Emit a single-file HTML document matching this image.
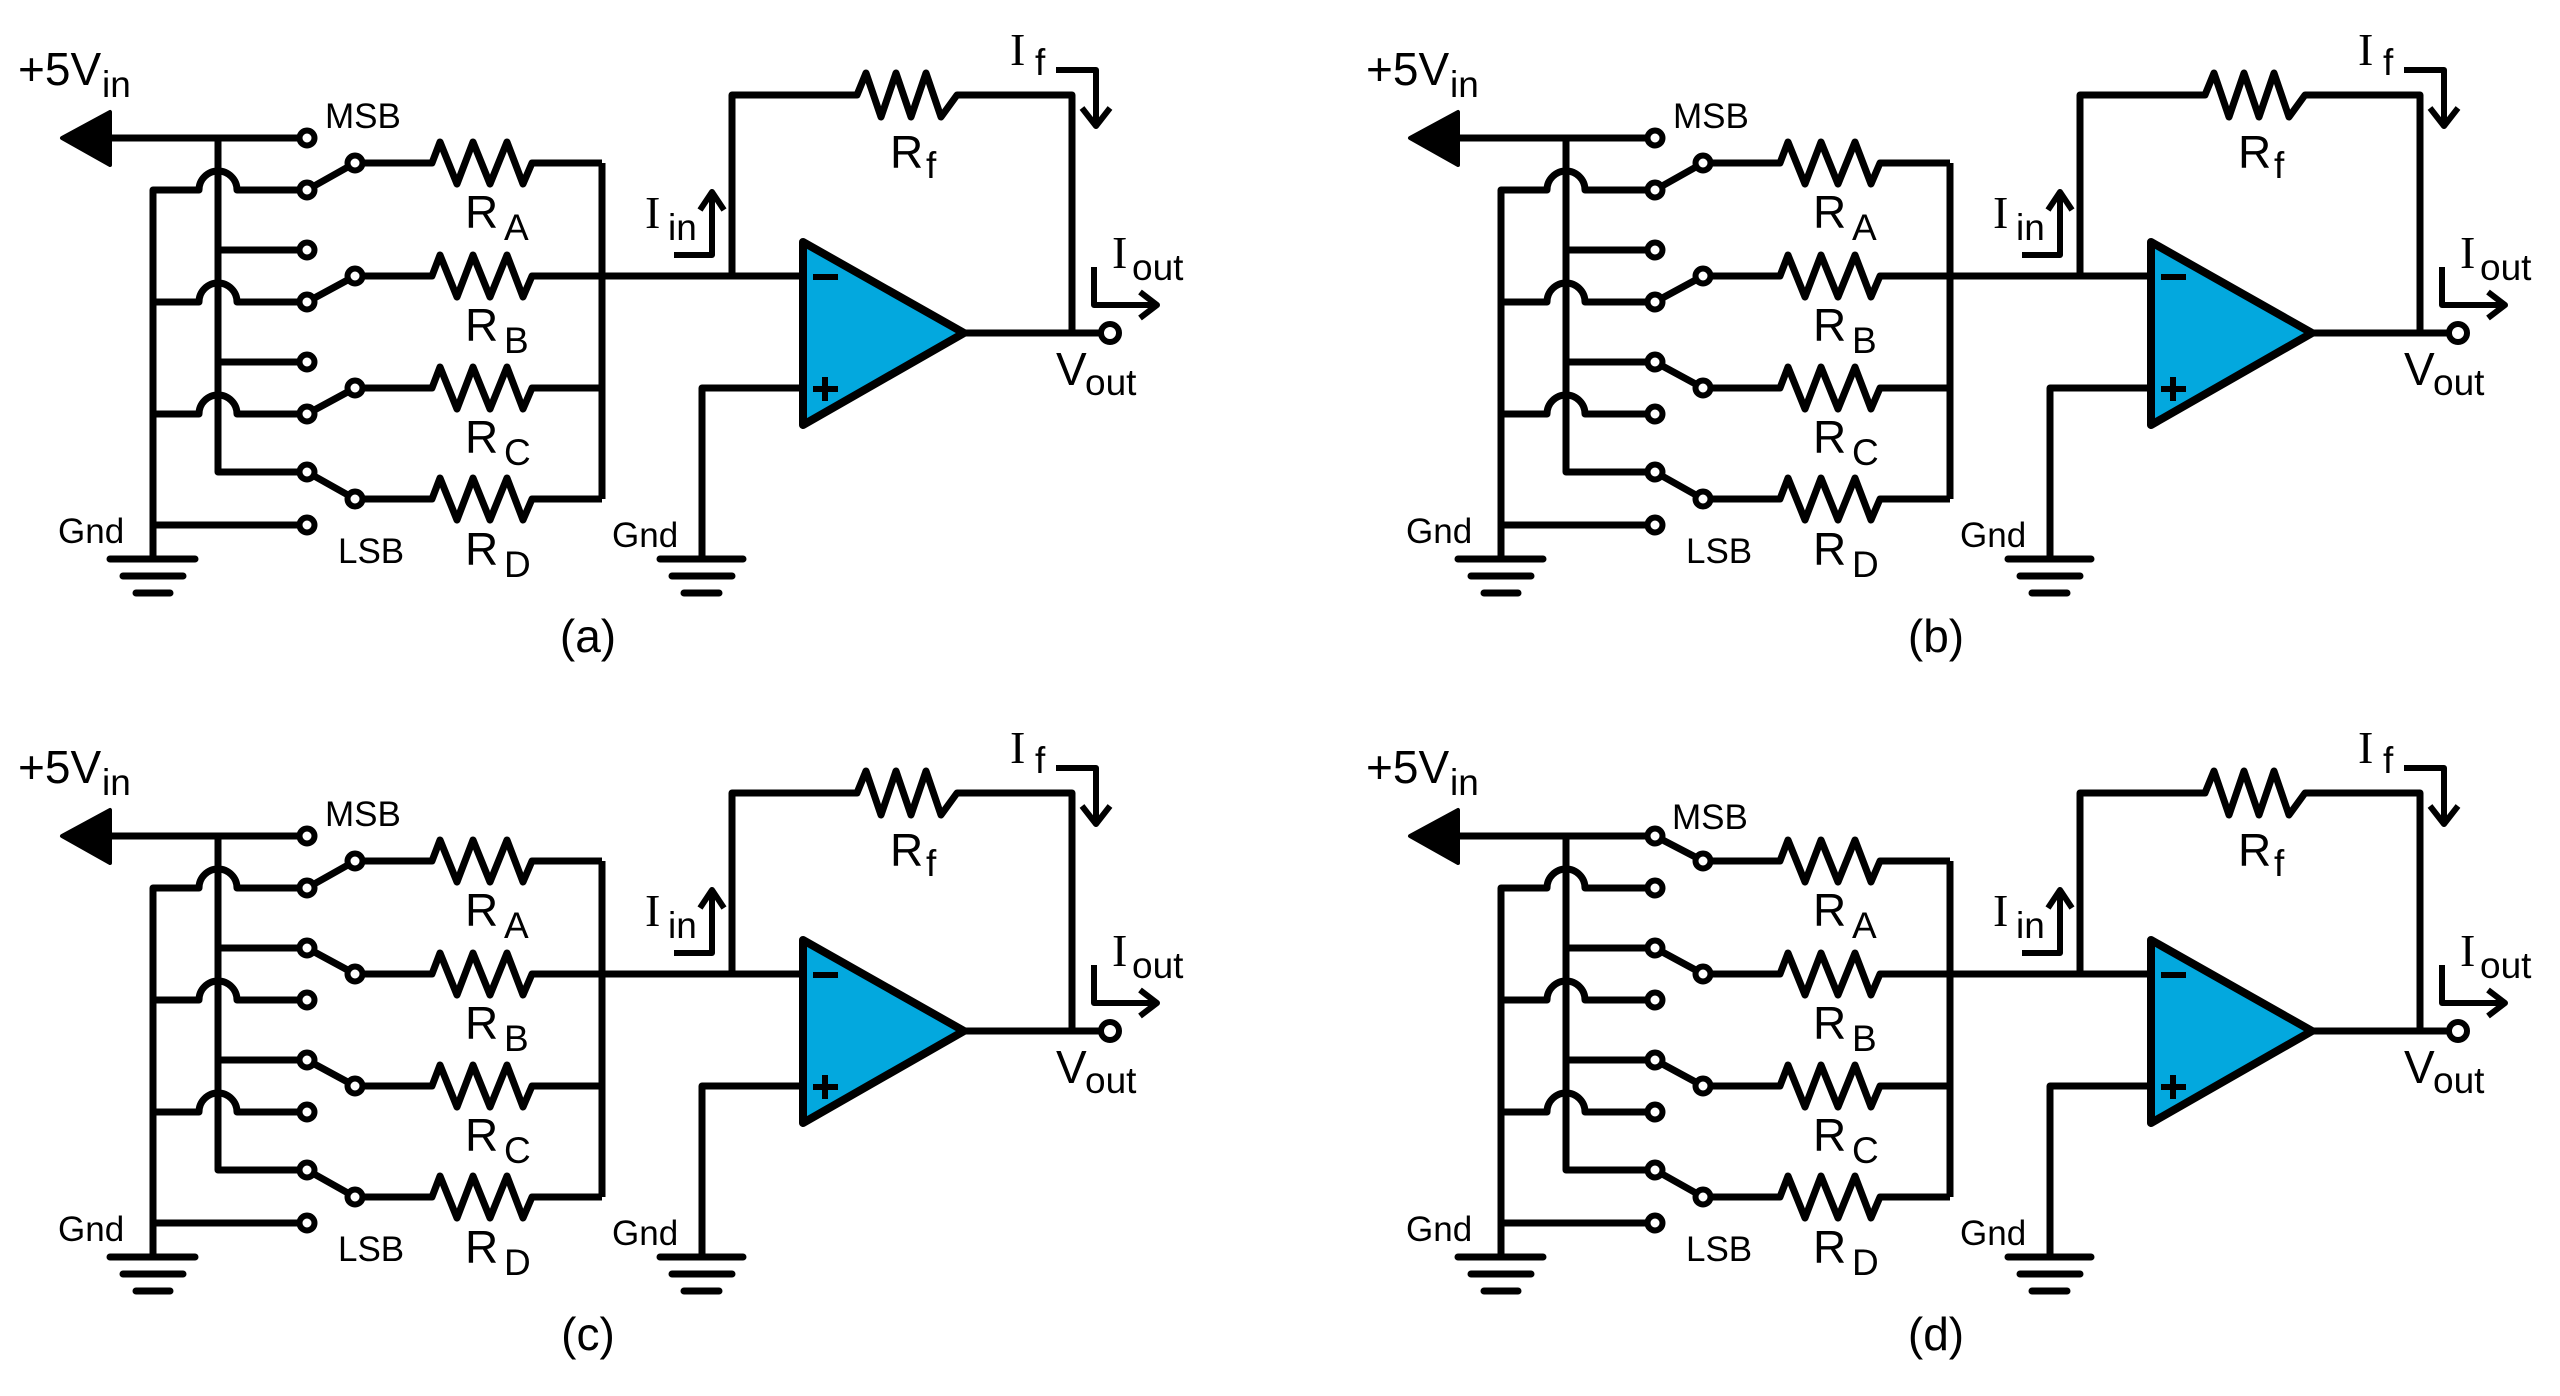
<!DOCTYPE html>
<html><head><meta charset="utf-8"><style>
html,body{margin:0;padding:0;background:#fff;}
svg{display:block;}
text{font-family:"Liberation Sans",sans-serif;fill:#000;}
.I{font-family:"Liberation Serif",serif;}
</style></head><body>
<svg width="2560" height="1396" viewBox="0 0 2560 1396" xmlns="http://www.w3.org/2000/svg">
<defs>
<g id="wires" fill="none" stroke="#000" stroke-width="7" stroke-linejoin="round">
  <polygon points="62,138 110,112 110,165" fill="#000" stroke-width="4"/>
  <path d="M110 138 H307"/>
  <path d="M218 138 V472 H307 M218 250 H307 M218 362 H307"/>
  <path d="M153 559 V190 H199 A19 19 0 0 1 237 190 H307"/>
  <path d="M153 302 H199 A19 19 0 0 1 237 302 H307"/>
  <path d="M153 414 H199 A19 19 0 0 1 237 414 H307"/>
  <path d="M153 525 H307"/>
  <path d="M110 559 H195 M123 576 H183 M136 593 H170" stroke-linecap="round"/>
  <path d="M355 163 H432 L440 142 L457 184 L473 142 L490 184 L507 142 L523 184 L532 163 H602"/>
  <path d="M355 276 H432 L440 255 L457 297 L473 255 L490 297 L507 255 L523 297 L532 276 H602"/>
  <path d="M355 388 H432 L440 367 L457 409 L473 367 L490 409 L507 367 L523 409 L532 388 H602"/>
  <path d="M355 499 H432 L440 478 L457 520 L473 478 L490 520 L507 478 L523 520 L532 499 H602"/>
  <path d="M602 163 V499 M602 276 H803"/>
  <path d="M732 276 V95 H857 L866 73 L881 117 L896 73 L911 117 L926 73 L941 117 L957 95 H1072 V333"/>
  <path d="M964 333 H1110"/>
  <path d="M803 388 H702 V559"/>
  <path d="M660 559 H743 M672 576 H732 M684 593 H719" stroke-linecap="round"/>
  <polygon points="803,242 964,333 803,425" fill="#03a8de" stroke-width="8"/>
  <path d="M813 277 H838 M813 389 H838 M825 377 V401" stroke-width="6"/>
  <path d="M1056 70 H1096 V125 M1082 108 L1096 126 L1110 108" stroke-width="6"/>
  <path d="M674 255 H712 V194 M700 210 L712 192 L724 210" stroke-width="6"/>
  <path d="M1094 267 V305 H1155 M1140 292 L1157 305 L1140 318" stroke-width="6"/>
</g>
<g id="circ" fill="#fff" stroke="#000" stroke-width="6">
  <circle cx="307" cy="138" r="7.5"/><circle cx="307" cy="190" r="7.5"/>
  <circle cx="307" cy="250" r="7.5"/><circle cx="307" cy="302" r="7.5"/>
  <circle cx="307" cy="362" r="7.5"/><circle cx="307" cy="414" r="7.5"/>
  <circle cx="307" cy="472" r="7.5"/><circle cx="307" cy="525" r="7.5"/>
  <circle cx="355" cy="163" r="7.5"/><circle cx="355" cy="276" r="7.5"/>
  <circle cx="355" cy="388" r="7.5"/><circle cx="355" cy="499" r="7.5"/>
  <circle cx="1110" cy="333" r="9"/>
</g>
</defs>

<!-- Panel a: 0001 -->
<g>
<use href="#wires"/>
<path d="M307 190 L355 163 M307 302 L355 276 M307 414 L355 388 M307 472 L355 499" stroke="#000" stroke-width="7" fill="none"/>
<use href="#circ"/>
<text x="18" y="85" font-size="46">+5V</text><text x="102" y="97" font-size="37">in</text>
<text x="325" y="128" font-size="35">MSB</text><text x="338" y="563" font-size="35">LSB</text>
<text x="58" y="543" font-size="35">Gnd</text><text x="612" y="547" font-size="35">Gnd</text>
<text x="465" y="228" font-size="46">R</text><text x="504" y="240" font-size="37">A</text>
<text x="465" y="341" font-size="46">R</text><text x="504" y="353" font-size="37">B</text>
<text x="465" y="453" font-size="46">R</text><text x="504" y="465" font-size="37">C</text>
<text x="465" y="565" font-size="46">R</text><text x="504" y="577" font-size="37">D</text>
<text x="890" y="168" font-size="46">R</text><text x="926" y="178" font-size="37">f</text>
<text class="I" x="1010" y="65" font-size="46">I</text><text x="1035" y="75" font-size="37">f</text>
<text class="I" x="645" y="228" font-size="46">I</text><text x="668" y="240" font-size="37">in</text>
<text class="I" x="1112" y="268" font-size="46">I</text><text x="1132" y="280" font-size="37">out</text>
<text x="1056" y="385" font-size="46">V</text><text x="1085" y="395" font-size="37">out</text>
<text x="588" y="652" font-size="46" text-anchor="middle">(a)</text>
</g>

<!-- Panel b: 0011 -->
<g transform="translate(1348,0)">
<use href="#wires"/>
<path d="M307 190 L355 163 M307 302 L355 276 M307 362 L355 388 M307 472 L355 499" stroke="#000" stroke-width="7" fill="none"/>
<use href="#circ"/>
<text x="18" y="85" font-size="46">+5V</text><text x="102" y="97" font-size="37">in</text>
<text x="325" y="128" font-size="35">MSB</text><text x="338" y="563" font-size="35">LSB</text>
<text x="58" y="543" font-size="35">Gnd</text><text x="612" y="547" font-size="35">Gnd</text>
<text x="465" y="228" font-size="46">R</text><text x="504" y="240" font-size="37">A</text>
<text x="465" y="341" font-size="46">R</text><text x="504" y="353" font-size="37">B</text>
<text x="465" y="453" font-size="46">R</text><text x="504" y="465" font-size="37">C</text>
<text x="465" y="565" font-size="46">R</text><text x="504" y="577" font-size="37">D</text>
<text x="890" y="168" font-size="46">R</text><text x="926" y="178" font-size="37">f</text>
<text class="I" x="1010" y="65" font-size="46">I</text><text x="1035" y="75" font-size="37">f</text>
<text class="I" x="645" y="228" font-size="46">I</text><text x="668" y="240" font-size="37">in</text>
<text class="I" x="1112" y="268" font-size="46">I</text><text x="1132" y="280" font-size="37">out</text>
<text x="1056" y="385" font-size="46">V</text><text x="1085" y="395" font-size="37">out</text>
<text x="588" y="652" font-size="46" text-anchor="middle">(b)</text>
</g>

<!-- Panel c: 0111 -->
<g transform="translate(0,698)">
<use href="#wires"/>
<path d="M307 190 L355 163 M307 250 L355 276 M307 362 L355 388 M307 472 L355 499" stroke="#000" stroke-width="7" fill="none"/>
<use href="#circ"/>
<text x="18" y="85" font-size="46">+5V</text><text x="102" y="97" font-size="37">in</text>
<text x="325" y="128" font-size="35">MSB</text><text x="338" y="563" font-size="35">LSB</text>
<text x="58" y="543" font-size="35">Gnd</text><text x="612" y="547" font-size="35">Gnd</text>
<text x="465" y="228" font-size="46">R</text><text x="504" y="240" font-size="37">A</text>
<text x="465" y="341" font-size="46">R</text><text x="504" y="353" font-size="37">B</text>
<text x="465" y="453" font-size="46">R</text><text x="504" y="465" font-size="37">C</text>
<text x="465" y="565" font-size="46">R</text><text x="504" y="577" font-size="37">D</text>
<text x="890" y="168" font-size="46">R</text><text x="926" y="178" font-size="37">f</text>
<text class="I" x="1010" y="65" font-size="46">I</text><text x="1035" y="75" font-size="37">f</text>
<text class="I" x="645" y="228" font-size="46">I</text><text x="668" y="240" font-size="37">in</text>
<text class="I" x="1112" y="268" font-size="46">I</text><text x="1132" y="280" font-size="37">out</text>
<text x="1056" y="385" font-size="46">V</text><text x="1085" y="395" font-size="37">out</text>
<text x="588" y="652" font-size="46" text-anchor="middle">(c)</text>
</g>

<!-- Panel d: 1111 -->
<g transform="translate(1348,698)">
<use href="#wires"/>
<path d="M307 138 L355 163 M307 250 L355 276 M307 362 L355 388 M307 472 L355 499" stroke="#000" stroke-width="7" fill="none"/>
<use href="#circ"/>
<text x="18" y="85" font-size="46">+5V</text><text x="102" y="97" font-size="37">in</text>
<text x="324" y="131" font-size="35">MSB</text><text x="338" y="563" font-size="35">LSB</text>
<text x="58" y="543" font-size="35">Gnd</text><text x="612" y="547" font-size="35">Gnd</text>
<text x="465" y="228" font-size="46">R</text><text x="504" y="240" font-size="37">A</text>
<text x="465" y="341" font-size="46">R</text><text x="504" y="353" font-size="37">B</text>
<text x="465" y="453" font-size="46">R</text><text x="504" y="465" font-size="37">C</text>
<text x="465" y="565" font-size="46">R</text><text x="504" y="577" font-size="37">D</text>
<text x="890" y="168" font-size="46">R</text><text x="926" y="178" font-size="37">f</text>
<text class="I" x="1010" y="65" font-size="46">I</text><text x="1035" y="75" font-size="37">f</text>
<text class="I" x="645" y="228" font-size="46">I</text><text x="668" y="240" font-size="37">in</text>
<text class="I" x="1112" y="268" font-size="46">I</text><text x="1132" y="280" font-size="37">out</text>
<text x="1056" y="385" font-size="46">V</text><text x="1085" y="395" font-size="37">out</text>
<text x="588" y="652" font-size="46" text-anchor="middle">(d)</text>
</g>
</svg>
</body></html>
